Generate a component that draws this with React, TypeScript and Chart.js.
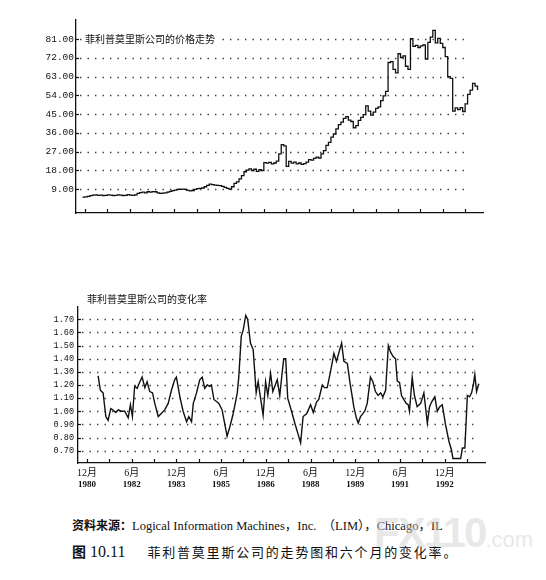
import React, { useEffect, useRef } from 'react';
import { Chart, registerables } from 'chart.js';

Chart.register(...registerables);

// month index: 0 = Jan 1980
const priceStartMonth = 10;
const priceValues = [
  5.2, 5.3, 5.6, 5.9, 6.2, 6.3, 6.1, 6.2, 6.0, 6.1,
  6.3, 6.2, 6.0, 6.1, 6.3, 6.2, 6.0, 6.1, 6.4, 6.2,
  6.1, 6.3, 7.0, 7.4, 7.6, 7.3, 7.8, 7.6, 7.9, 7.8,
  7.3, 7.0, 7.1, 7.3, 7.6, 8.0, 8.3, 8.6, 8.9, 9.0,
  9.1, 8.9, 8.5, 8.2, 8.4, 8.9, 9.3, 9.4, 9.6, 10.2,
  10.9, 11.5, 11.2, 11.0, 10.9, 10.7, 10.4, 9.9, 9.4, 9.1,
  10.2, 11.8, 12.5, 14.0, 15.5, 17.4, 18.2, 18.8, 18.0, 18.6,
  17.6, 18.4, 18.0, 21.8, 21.5, 21.9, 21.2, 21.6, 22.5, 26.0,
  30.4, 29.8, 20.0, 22.4, 21.5, 22.0, 21.2, 21.6, 20.9, 21.3,
  22.0, 23.2, 23.0, 23.8, 24.4, 24.0, 26.0, 27.5, 30.0, 31.5,
  34.0, 35.5, 38.0, 40.0, 41.2, 43.0, 43.8, 42.2, 41.5, 38.5,
  39.5, 42.0, 43.5, 44.8, 49.0, 46.5, 44.6, 46.0, 47.8, 48.5,
  51.5, 53.8, 56.0, 69.8, 70.2, 66.5, 64.8, 74.0, 72.2, 73.0,
  68.0, 66.5, 81.2, 77.5, 78.0, 77.0, 77.8, 78.2, 71.5, 79.5,
  82.0, 85.2, 79.2, 81.4, 79.0, 77.0, 72.6, 63.0, 62.2, 46.5,
  48.0, 47.2, 48.2, 46.3, 50.0, 54.5, 56.6, 59.8, 58.5, 56.6,
];
const priceTickValues = [9, 18, 27, 36, 45, 54, 63, 72, 81];

const rocMonths = [
  15.5, 16.4, 17.5, 18.6, 19.5, 20.6, 21.5, 22.6, 23.6, 24.9,
  26.2, 27.6, 28.5, 29.3, 30.2, 31.2, 32.3, 33.2, 34.3, 35.2,
  36.3, 37.4, 38.3, 39.7, 41.0, 42.3, 43.7, 45.0, 46.3, 47.0,
  48.4, 49.7, 51.1, 52.0, 53.1, 53.8, 55.1, 56.4, 57.4, 58.4,
  59.4, 60.4, 61.1, 62.1, 64.1, 65.4, 66.4, 67.4, 68.5, 69.9,
  71.5, 72.1, 73.1, 73.9, 74.9, 75.7, 76.8, 77.9, 79.1, 79.9,
  80.8, 81.9, 82.9, 83.8, 84.9, 85.8, 86.6, 87.6, 88.6, 89.6,
  90.2, 91.0, 91.8, 93.2, 94.5, 95.9, 97.0, 98.0, 99.4, 101.0,
  102.1, 103.4, 104.3, 105.7, 106.6, 107.7, 109.0, 110.4, 111.4, 113.5,
  114.4, 115.8, 116.8, 118.4, 119.4, 120.2, 121.1, 122.8, 123.8, 125.1,
  126.1, 127.1, 128.2, 129.2, 130.1, 131.2, 132.3, 133.2, 134.3, 135.2,
  135.9, 136.8, 137.6, 138.5, 139.5, 140.3, 140.8, 141.9, 142.8, 143.9,
  145.3, 146.6, 148.0, 148.9, 149.7, 151.0, 152.0, 153.0, 154.0, 155.3,
  156.7, 157.7, 158.3, 161.4, 162.1, 163.1, 164.1, 165.0, 165.8, 166.5,
  167.1, 167.8, 168.7,
];
const rocValues = [
  1.27, 1.16, 1.14, 0.96, 0.93, 1.02, 1.01, 0.99, 1.01, 1.0,
  1.0, 0.95, 1.05, 0.96, 1.19, 1.175, 1.225, 1.26, 1.18, 1.225,
  1.15, 1.14, 1.06, 0.96, 0.985, 1.01, 1.06, 1.16, 1.24, 1.26,
  1.11, 1.0, 0.92, 0.96, 0.92, 1.06, 1.14, 1.24, 1.26, 1.175,
  1.2, 1.19, 1.2, 1.09, 1.06, 1.01, 0.91, 0.81, 0.88, 0.985,
  1.14, 1.26, 1.57, 1.62, 1.73, 1.70, 1.52, 1.47, 1.14, 1.225,
  1.11, 0.97, 1.225, 1.12, 1.29, 1.15, 1.19, 1.24, 1.12, 1.30,
  1.40, 1.40, 1.10, 1.01, 0.92, 0.83, 0.76, 0.96, 0.98, 1.05,
  0.99, 1.07, 1.09, 1.20, 1.18, 1.18, 1.30, 1.44, 1.38, 1.52,
  1.38, 1.365, 1.225, 1.035, 0.95, 0.91, 0.96, 1.0, 1.06, 1.26,
  1.225, 1.15, 1.12, 1.14, 1.11, 1.16, 1.50, 1.45, 1.415, 1.40,
  1.23, 1.22, 1.12, 1.09, 1.06, 1.05, 1.0, 1.26, 1.12, 1.035,
  1.06, 1.14, 0.91, 1.035, 1.07, 1.11, 1.0, 1.035, 1.05, 0.90,
  0.77, 0.705, 0.64, 0.64, 0.72, 0.72, 1.12, 1.11, 1.14, 1.20,
  1.28, 1.15, 1.21,
];
const rocTickValues = [0.7, 0.8, 0.9, 1.0, 1.1, 1.2, 1.3, 1.4, 1.5, 1.6, 1.7];

const axisTickMonths = [11, 20, 29, 38, 47, 56, 65, 74, 83, 92, 101, 110, 119, 128, 137, 146, 155, 164];
const monthLabels = ['12月', '6月', '12月', '6月', '12月', '6月', '12月', '6月', '12月'];
const yearLabels = ['1980', '1982', '1983', '1985', '1986', '1988', '1989', '1991', '1992'];

const priceTitle = '菲利普莫里斯公司的价格走势';
const rocTitle = '菲利普莫里斯公司的变化率';

const X_MIN = 7.4;
const X_MAX = 171.2;
const INK = '#111';

type DecorOpts = {
  title: string;
  titleOnValue: number | null;
  gridEnd: number;
  labels: boolean;
};

function decorPlugin(o: DecorOpts) {
  return {
    id: 'decor',
    beforeDatasetsDraw(chart: any) {
      const { ctx, chartArea: a, scales } = chart;
      const x = scales.x;
      const y = scales.y;
      ctx.save();
      ctx.strokeStyle = '#3a3a3a';
      ctx.lineWidth = 1.4;
      ctx.setLineDash([1.4, 6.1]);
      const xEnd = x.getPixelForValue(o.gridEnd);
      for (const t of y.ticks) {
        const py = Math.round(y.getPixelForValue(t.value)) + 0.5;
        ctx.beginPath();
        ctx.moveTo(a.left + 4, py);
        ctx.lineTo(xEnd, py);
        ctx.stroke();
      }
      ctx.restore();
    },
    afterDraw(chart: any) {
      const { ctx, chartArea: a, scales } = chart;
      const x = scales.x;
      const y = scales.y;
      ctx.save();
      ctx.strokeStyle = INK;
      ctx.lineWidth = 1.2;
      for (const m of axisTickMonths) {
        const px = Math.round(x.getPixelForValue(m)) + 0.5;
        ctx.beginPath();
        ctx.moveTo(px, a.bottom);
        ctx.lineTo(px, a.bottom - 4);
        ctx.stroke();
      }
      for (const t of y.ticks) {
        const py = Math.round(y.getPixelForValue(t.value)) + 0.5;
        ctx.beginPath();
        ctx.moveTo(a.left, py);
        ctx.lineTo(a.left + 3, py);
        ctx.stroke();
      }
      // title
      ctx.font = '10px "Noto Sans CJK SC", sans-serif';
      ctx.textBaseline = 'middle';
      ctx.textAlign = 'left';
      const tx = x.getPixelForValue(axisTickMonths[0]);
      const ty = o.titleOnValue !== null ? y.getPixelForValue(o.titleOnValue) : a.top - 8;
      const w = ctx.measureText(o.title).width;
      ctx.fillStyle = '#fff';
      ctx.fillRect(tx - 3, ty - 6, w + 6, 12);
      ctx.fillStyle = INK;
      ctx.fillText(o.title, tx, ty);
      if (o.labels) {
        ctx.textAlign = 'center';
        for (let i = 0; i < monthLabels.length; i++) {
          const px = x.getPixelForValue(axisTickMonths[i * 2]);
          ctx.font = '10px "Liberation Serif", "Noto Sans CJK SC", serif';
          ctx.fillText(monthLabels[i], px, a.bottom + 10);
          ctx.font = 'bold 9px "Liberation Serif", serif';
          ctx.fillText(yearLabels[i], px, a.bottom + 22);
        }
      }
      ctx.restore();
    },
  };
}

function buildChart(
  canvas: HTMLCanvasElement,
  points: { x: number; y: number }[],
  cfg: {
    yMin: number;
    yMax: number;
    yTicks: number[];
    decimals: number;
    fontSize: number;
    labelPad: number;
    padding: { top: number; right: number; bottom: number; left: number };
    stepped: boolean;
    lineWidth: number;
    decor: DecorOpts;
  }
) {
  return new Chart(canvas, {
    type: 'line',
    data: {
      datasets: [
        {
          data: points,
          borderColor: INK,
          borderWidth: cfg.lineWidth,
          pointRadius: 0,
          fill: false,
          tension: 0,
          stepped: cfg.stepped,
        },
      ],
    },
    options: {
      responsive: false,
      animation: false,
      devicePixelRatio: 1,
      events: [],
      layout: { padding: cfg.padding, autoPadding: false },
      plugins: { legend: { display: false }, tooltip: { enabled: false } },
      scales: {
        x: {
          type: 'linear',
          min: X_MIN,
          max: X_MAX,
          grid: { display: false, drawTicks: false },
          border: { display: true, color: INK, width: 1.3 },
          ticks: { display: false },
          afterBuildTicks: (scale: any) => {
            scale.ticks = axisTickMonths.map((v) => ({ value: v }));
          },
          afterFit: (scale: any) => {
            scale.height = 0;
          },
        },
        y: {
          type: 'linear',
          min: cfg.yMin,
          max: cfg.yMax,
          grid: { display: false, drawTicks: false },
          border: { display: true, color: INK, width: 1.3 },
          ticks: {
            padding: cfg.labelPad,
            color: INK,
            font: { family: '"Liberation Mono", monospace', size: cfg.fontSize },
            callback: (v: any) => Number(v).toFixed(cfg.decimals),
          },
          afterBuildTicks: (scale: any) => {
            scale.ticks = cfg.yTicks.map((v) => ({ value: v }));
          },
          afterFit: (scale: any) => {
            scale.width = 76;
          },
        },
      },
    },
    plugins: [decorPlugin(cfg.decor)],
  } as any);
}

export default function App() {
  const topRef = useRef<HTMLCanvasElement>(null);
  const botRef = useRef<HTMLCanvasElement>(null);

  useEffect(() => {
    document.body.style.margin = '0';
    document.body.style.background = '#fff';
    const pricePoints = priceValues.map((v, i) => ({ x: priceStartMonth + i, y: v }));
    const rocPoints = rocMonths.map((m, i) => ({ x: m, y: rocValues[i] }));
    const c1 = buildChart(topRef.current!, pricePoints, {
      yMin: -2.4,
      yMax: 90.2,
      yTicks: priceTickValues,
      decimals: 2,
      fontSize: 9.5,
      labelPad: 2,
      padding: { top: 20, right: 63, bottom: 17, left: 0 },
      stepped: true,
      lineWidth: 1.3,
      decor: { title: priceTitle, titleOnValue: 81, gridEnd: 166, labels: false },
    });
    const c2 = buildChart(botRef.current!, rocPoints, {
      yMin: 0.606,
      yMax: 1.794,
      yTicks: rocTickValues,
      decimals: 2,
      fontSize: 8.5,
      labelPad: 4,
      padding: { top: 27, right: 63, bottom: 37, left: 0 },
      stepped: false,
      lineWidth: 1.4,
      decor: { title: rocTitle, titleOnValue: null, gridEnd: 166.5, labels: true },
    });
    return () => {
      c1.destroy();
      c2.destroy();
    };
  }, []);

  return (
    <div style={{ position: 'relative', width: 546, height: 580, background: '#fff', overflow: 'hidden' }}>
      <canvas ref={topRef} width={546} height={230} style={{ position: 'absolute', left: 0, top: 0 }} />
      <canvas ref={botRef} width={546} height={220} style={{ position: 'absolute', left: 2, top: 280 }} />
      <div
        style={{
          position: 'absolute',
          left: 72,
          top: 516,
          fontSize: 12.5,
          lineHeight: '18px',
          color: INK,
          whiteSpace: 'nowrap',
          fontFamily: '"Liberation Serif", "Noto Sans CJK SC", serif',
        }}
      >
        <span style={{ fontWeight: 'bold', fontFamily: '"Noto Sans CJK SC", sans-serif', fontSize: 12 }}>资料来源：</span>
        Logical Information Machines，Inc.&nbsp; （LIM），Chicago，IL
      </div>
      <div
        style={{
          position: 'absolute',
          left: 72,
          top: 541,
          fontSize: 14,
          lineHeight: '20px',
          color: INK,
          whiteSpace: 'nowrap',
          fontFamily: '"Liberation Serif", "Noto Sans CJK SC", serif',
        }}
      >
        <span style={{ fontWeight: 'bold', fontFamily: '"Noto Sans CJK SC", sans-serif' }}>图</span>
        <span style={{ fontSize: 16 }}> 10.11</span>
        <span style={{ display: 'inline-block', width: 22 }} />
        <span style={{ fontFamily: '"Noto Sans CJK SC", sans-serif', fontSize: 13, letterSpacing: 1.8 }}>
          菲利普莫里斯公司的走势图和六个月的变化率。
        </span>
      </div>
      <div
        style={{
          position: 'absolute',
          left: 374,
          top: 510,
          whiteSpace: 'nowrap',
          color: 'rgba(210,210,210,0.5)',
          fontFamily: '"Liberation Sans", sans-serif',
          fontWeight: 'bold',
          pointerEvents: 'none',
          lineHeight: '46px',
        }}
      >
        <span style={{ fontSize: 42, letterSpacing: -2 }}>FX110</span>
        <span style={{ fontSize: 22, fontWeight: 'normal' }}>.com</span>
      </div>
    </div>
  );
}
